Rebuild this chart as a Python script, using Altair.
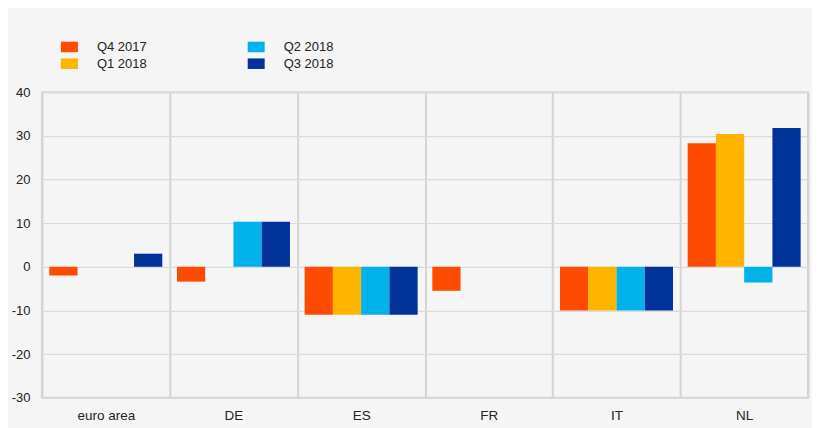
import altair as alt
import pandas as pd

countries = ["euro area", "DE", "ES", "FR", "IT", "NL"]
series = ["Q4 2017", "Q1 2018", "Q2 2018", "Q3 2018"]
q4_2017 = [-2.0, -3.4, -11.0, -5.5, -10.0, 28.3]
q1_2018 = [0.0, 0.0, -11.0, 0.0, -10.0, 30.4]
q2_2018 = [0.0, 10.3, -11.0, 0.0, -10.0, -3.6]
q3_2018 = [3.0, 10.3, -11.0, 0.0, -10.0, 31.8]
colors = ["#FF4B00", "#FFB400", "#00B1EA", "#003299"]
y_ticks = [-30, -20, -10, 0, 10, 20, 30, 40]

rows = []
for s, vals in zip(series, [q4_2017, q1_2018, q2_2018, q3_2018]):
    for c, v in zip(countries, vals):
        rows.append({"country": c, "series": s, "value": v})
df = pd.DataFrame(rows)

FONT = "Liberation Sans"

chart = alt.Chart(df).mark_bar().encode(
    x=alt.X("country:N", sort=countries, title=None,
            scale=alt.Scale(paddingInner=0, paddingOuter=0),
            axis=alt.Axis(labelAngle=0, grid=True, tickBand="extent", gridColor="#d4d4d4",
                          gridWidth=2, domain=False, ticks=False, labelPadding=11,
                          labelFontSize=13.5, labelColor="#222222", labelFont=FONT)),
    xOffset=alt.XOffset("series:N", sort=series,
                        scale=alt.Scale(paddingInner=0, paddingOuter=0.26)),
    y=alt.Y("value:Q", title=None,
            scale=alt.Scale(domain=[-30, 40], nice=False, zero=False),
            axis=alt.Axis(values=y_ticks, grid=True, gridColor="#dadada", gridWidth=1.2,
                          domain=False, ticks=False, labelPadding=12,
                          labelExpr="'' + datum.value",
                          labelFontSize=13, labelColor="#222222", labelFont=FONT)),
    color=alt.Color("series:N",
                    scale=alt.Scale(domain=series, range=colors),
                    legend=alt.Legend(title=None, orient="none", legendX=19, legendY=-54,
                                      columns=2, columnPadding=101, rowPadding=1,
                                      symbolType="M-1,-0.62H1V0.62H-1Z", symbolSize=289,
                                      symbolStrokeWidth=0, labelOffset=19,
                                      labelFontSize=13, labelColor="#222222", labelFont=FONT)),
).properties(
    width=767, height=306,
    autosize=alt.AutoSizeParams(type="none"),
    padding={"left": 34, "top": 84, "right": 4, "bottom": 30},
    background="#f5f5f5",
).configure_view(
    stroke="#d4d4d4", strokeWidth=2, fill="#f5f5f5"
)

chart.save("out.html", embed_options={"renderer": "svg", "actions": False})
